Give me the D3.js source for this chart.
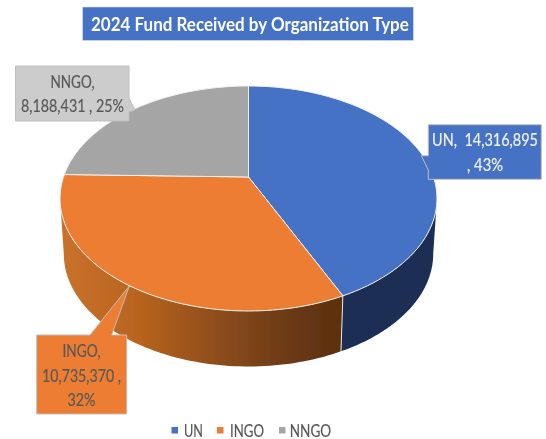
<!DOCTYPE html>
<html>
<head>
<meta charset="utf-8">
<script src="https://cdn.jsdelivr.net/npm/d3@7/dist/d3.min.js"></script>
<style>
html,body{margin:0;padding:0;background:#fff}
svg{display:block}
text{font-family:Lato,"Open Sans",sans-serif;white-space:pre}
</style>
</head>
<body>
<svg id="c" width="546" height="439"></svg>
<script>
const titleText = "2024 Fund Received by Organization Type";
const categories = ["UN", "INGO", "NNGO"];
const fundValues = [14316895, 10735370, 8188431];
const percentLabels = ["43%", "32%", "25%"];
const topColors = ["#4472c4", "#ed7d31", "#a5a5a5"];

const svg = d3.select("#c");
const defs = svg.append("defs");
defs.append("filter").attr("id","soft").attr("x","-5%").attr("y","-5%").attr("width","110%").attr("height","110%")
  .append("feGaussianBlur").attr("stdDeviation",0.35);

const root = svg.append("g").attr("filter","url(#soft)");

// perspective disc: unit circle -> screen
const persp = 0.191;
const xScale = d3.scaleLinear().domain([-1,1]).range([63.5,433.5]);
const yScale = d3.scaleLinear().domain([-1,1]).range([285.4,68.6]);
const depth = 55.5, bottomShrink = 0.98, axisX = xScale(0);
function rim(theta){
  const u = Math.sin(theta), v = Math.cos(theta), w = 1 + persp*v;
  return [xScale(u/w), yScale(v/w)];
}
function rimLow(theta){
  const p = rim(theta);
  return [axisX + (p[0]-axisX)*bottomShrink, p[1]+depth];
}
function sample(a,b,f){
  return d3.range(0,81).map(i => f(a+(b-a)*i/80));
}
const lineGen = d3.line();
const pie = d3.pie().sort(null).value(d=>d);
const arcs = pie(fundValues);

// gradients for side walls
const sideGrad = [
  {id:"gUN", stops:[["0%","#1a2e52"],["100%","#1a2e52"]], x1:340, x2:437},
  {id:"gINGO", stops:[["0%","#c9712c"],["27%","#b9641f"],["55%","#8f4e1e"],["78%","#6f3c16"],["100%","#5c300f"]], x1:62, x2:340},
  {id:"gNNGO", stops:[["0%","#6b6b6b"],["100%","#6b6b6b"]], x1:60, x2:248}
];
sideGrad.forEach(g=>{
  const lg = defs.append("linearGradient").attr("id",g.id).attr("gradientUnits","userSpaceOnUse")
    .attr("x1",g.x1).attr("x2",g.x2).attr("y1",0).attr("y2",0);
  g.stops.forEach(s=>lg.append("stop").attr("offset",s[0]).attr("stop-color",s[1]));
});

// side walls: the silhouette's vertical tangents bound the visible front of the disc
const frontA = Math.acos(-persp), frontB = 2*Math.PI - frontA;
root.append("g").selectAll("path").data(arcs).join("path")
  .attr("d",d=>{
    const a = Math.max(d.startAngle,frontA), b = Math.min(d.endAngle,frontB);
    if (b<=a) return null;
    return lineGen(sample(a,b,rim).concat(sample(b,a,rimLow)))+"Z";
  })
  .attr("fill",(d,i)=>`url(#${sideGrad[i].id})`);

// seam between the side walls
const seam = arcs[0].endAngle;
root.append("line").attr("x1",rim(seam)[0]).attr("y1",rim(seam)[1])
  .attr("x2",rimLow(seam)[0]).attr("y2",rimLow(seam)[1])
  .attr("stroke","#e6e6e6").attr("stroke-width",1);

// top faces
const apex = [xScale(0),yScale(0)];
root.append("g").selectAll("path").data(arcs).join("path")
  .attr("d",d=>lineGen([apex].concat(sample(d.startAngle,d.endAngle,rim)))+"Z")
  .attr("fill",(d,i)=>topColors[i])
  .attr("stroke","#f1f1f1").attr("stroke-width",1).attr("stroke-linejoin","round");

// text squeezed horizontally to the narrower width of the original face
function fitText(parent, str, x, y, width, size, color, anchor, weight){
  const t = parent.append("text").attr("text-anchor",anchor).attr("fill",color)
    .attr("font-size",size).attr("font-weight",weight||400).text(str);
  if (!weight) t.attr("stroke",color).attr("stroke-width",0.2);
  const sx = width / t.node().getComputedTextLength();
  t.attr("transform",`translate(${x},${y}) scale(${sx},1)`);
  return t;
}

// title
root.append("rect").attr("x",82.5).attr("y",7).attr("width",331).attr("height",33.5)
  .attr("fill","#4472c4").attr("stroke","#d9e2f3").attr("stroke-width",0.6);
fitText(root,titleText,91,30.5,318,19.5,"#fff","start",700);

// callouts
const fmt = d3.format(",");
const calloutLines = [
  [`${categories[0]},  ${fmt(fundValues[0])}`, `, ${percentLabels[0]}`],
  [`${categories[1]},`, `${fmt(fundValues[1])} ,`, percentLabels[1]],
  [`${categories[2]},`, `${fmt(fundValues[2])} , ${percentLabels[2]}`]
];
const calloutShapes = [
  {pts:[[428.3,124.7],[541.3,124.7],[541.3,179.3],[428.3,179.3],[428.3,170],[421.3,155.7],[428.3,155.7]], fill:topColors[0], color:"#f2f2f2",
   cx:485, ys:[146,170.5], widths:[106,36]},
  {pts:[[36.7,335],[90,335],[129.3,286],[111.7,335],[126.7,335],[126.7,414],[36.7,414]], fill:topColors[1], color:"#595959",
   cx:81.5, ys:[357,381.5,406], widths:[38,79,28]},
  {pts:[[15.5,66],[129,66],[129,98],[135,110],[129,112],[129,121],[15.5,121]], fill:"#cdcccc", color:"#595959",
   cx:72.5, ys:[88,112], widths:[44,103]}
];
calloutShapes.forEach((c,i)=>{
  const g = root.append("g");
  g.append("path").attr("d",lineGen(c.pts)+"Z").attr("fill",c.fill)
    .attr("stroke","#bfbfbf").attr("stroke-width",1);
  calloutLines[i].forEach((t,j)=>fitText(g,t,c.cx,c.ys[j],c.widths[j],17,c.color,"middle"));
});

// legend
const legendX = [171.5,217,279];
const legendTextX = [184,230,289.7];
const legendW = [19,34,41.5];
categories.forEach((d,i)=>{
  root.append("rect").attr("x",legendX[i]).attr("y",427).attr("width",6.5).attr("height",6.5).attr("fill",topColors[i]);
  fitText(root,d,legendTextX[i],436.5,legendW[i],17,"#595959","start");
});
</script>
</body>
</html>
